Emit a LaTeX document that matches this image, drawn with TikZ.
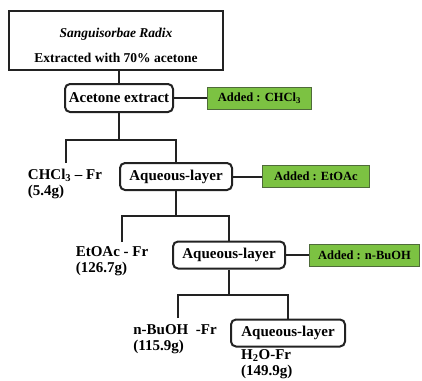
\documentclass[tikz,border=0pt]{standalone}
\usepackage{fontspec}
\setmainfont{Liberation Serif}
\usepackage{xcolor}
\definecolor{cLine}{HTML}{222222}
\definecolor{cGreen}{HTML}{7CC242}
\definecolor{cGreenEdge}{HTML}{4F6B3A}
\usetikzlibrary{positioning,calc}
\tikzset{
  node-top/.style={draw=cLine,line width=1.6pt,minimum width=214pt,
    minimum height=59pt,align=center,font=\bfseries\fontsize{13.5}{25}\selectfont},
  node-box/.style={draw=cLine,line width=2pt,rounded corners=5pt,
    minimum height=27pt,inner xsep=3pt,font=\bfseries\fontsize{15}{17}\selectfont},
  node-add/.style={draw=cGreenEdge,line width=0.9pt,fill=cGreen,
    minimum height=22pt,font=\bfseries\fontsize{12.5}{14}\selectfont},
  node-frac/.style={align=left,inner xsep=2pt,inner ysep=8pt,
    font=\bfseries\fontsize{15}{16}\selectfont},
  link/.style={draw=cLine,line width=2pt},
}
\begin{document}
\begin{tikzpicture}[x=1pt,y=-1pt]
  \useasboundingbox (0,0) rectangle (422,380);
  % extraction
  \node[node-top] (herb) at (116,40.5) {\rule{0pt}{19pt}\textit{Sanguisorbae Radix}\\Extracted with 70\% acetone};
  \node[node-box,minimum width=108pt,minimum height=28pt] (ext) at (119,98) {Acetone extract};
  \node[node-add,minimum width=104pt,right=33pt of ext] (add1) {Added : CHCl\textsubscript{3}};
  % first partition
  \coordinate (b1) at (66,163);
  \node[node-frac,anchor=north] (chcl) at (65,161) {CHCl\textsubscript{3} – Fr\\(5.4g)};
  \node[node-box,minimum width=112pt] (aq1) at (176,176.5) {Aqueous-layer};
  \node[node-add,minimum width=107pt,right=29pt of aq1] (add2) {Added : EtOAc};
  % second partition
  \coordinate (b2) at (122,242);
  \node[node-frac,anchor=north] (etoac) at (112,238) {EtOAc - Fr\\(126.7g)};
  \node[node-box,minimum width=112pt] (aq2) at (229,255) {Aqueous-layer};
  \node[node-add,minimum width=110pt,right=23pt of aq2] (add3) {Added : n-BuOH};
  % third partition
  \coordinate (b3) at (178,318);
  \node[node-frac,anchor=north] (buoh) at (175,316) {n-BuOH~~-Fr\\(115.9g)};
  \node[node-box,minimum width=114pt] (aq3) at (288,333) {Aqueous-layer};
  \node[node-frac,anchor=north west] (water) at (239,341) {H\textsubscript{2}O-Fr\\(149.9g)};
  % connectors
  \draw[link] (ext.north |- herb.south) -- (ext.north);
  \draw[link] (ext) -- (add1);
  \coordinate (j1) at ($(ext.south)+(0,27)$);
  \draw[link] (ext.south) -- (j1);
  \draw[link] (b1) |- (j1) -| (aq1.north);
  \draw[link] (aq1) -- (add2);
  \coordinate (j2) at ($(aq1.south)+(0,25)$);
  \draw[link] (aq1.south) -- (j2);
  \draw[link] (b2) |- (j2) -| (aq2.north);
  \draw[link] (aq2) -- (add3);
  \coordinate (j3) at ($(aq2.south)+(0,25)$);
  \draw[link] (aq2.south) -- (j3);
  \draw[link] (b3) |- (j3) -| (aq3.north);
\end{tikzpicture}
\end{document}
